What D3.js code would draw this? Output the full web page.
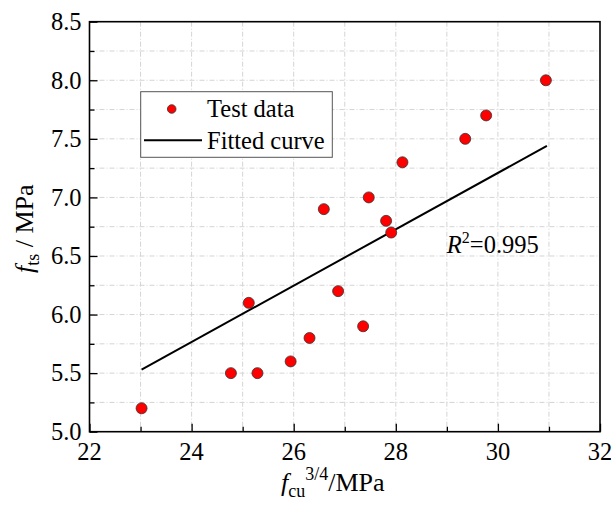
<!DOCTYPE html>
<html>
<head>
<meta charset="utf-8">
<script src="https://cdnjs.cloudflare.com/ajax/libs/d3/7.8.5/d3.min.js"></script>
<style>
  body { margin: 0; background: #fff; }
  svg text { font-family: "Liberation Serif", "Times New Roman", serif; fill: #000; }
</style>
</head>
<body>
<svg id="chart" width="611" height="509"></svg>
<script>
// test data: fcu^(3/4) vs fts
var xData = [23.02, 24.77, 25.12, 25.29, 25.94, 26.31, 26.59, 26.87, 27.36, 27.47, 27.81, 27.91, 28.13, 29.36, 29.77, 30.94];
var yData = [5.2, 5.5, 6.1, 5.5, 5.6, 5.8, 6.9, 6.2, 5.9, 7.0, 6.8, 6.7, 7.3, 7.5, 7.7, 8.0];
// fitted line end points
var fitX = [23.02, 30.96];
var fitY = [5.53, 7.44];
var xTicks = [22, 24, 26, 28, 30, 32];
var yTicks = [5.0, 5.5, 6.0, 6.5, 7.0, 7.5, 8.0, 8.5];

var serif = "'Liberation Serif', 'Times New Roman', serif";
var margin = {top: 21.7, right: 11, bottom: 77.3, left: 89.5};
var width = 611 - margin.left - margin.right;
var height = 509 - margin.top - margin.bottom;

var svg = d3.select("#chart");
var g = svg.append("g").attr("transform", "translate(" + margin.left + "," + margin.top + ")");

var x = d3.scaleLinear().domain([22, 32]).range([0, width]);
var y = d3.scaleLinear().domain([5, 8.5]).range([height, 0]);

// grid (at major and minor tick positions)
var gridX = d3.range(23, 32, 1);
var gridY = d3.range(5.25, 8.5, 0.25);
g.selectAll(".gx").data(gridX).enter().append("line")
  .attr("x1", function(d){ return x(d); }).attr("x2", function(d){ return x(d); })
  .attr("y1", 0).attr("y2", height)
  .attr("stroke", "#d4d4d4").attr("stroke-width", 1).attr("stroke-dasharray", "5,2,1,2");
g.selectAll(".gy").data(gridY).enter().append("line")
  .attr("y1", function(d){ return y(d); }).attr("y2", function(d){ return y(d); })
  .attr("x1", 0).attr("x2", width)
  .attr("stroke", "#d4d4d4").attr("stroke-width", 1).attr("stroke-dasharray", "5,2,1,2");

// axes with inward ticks
var xAxis = g.append("g").attr("transform", "translate(0," + height + ")")
  .call(d3.axisBottom(x).tickValues(d3.range(22, 32.5, 1)).tickSize(-5).tickFormat(""));
xAxis.selectAll(".tick line").filter(function(d){ return d % 2 === 0; }).attr("y2", -8);
var yAxis = g.append("g")
  .call(d3.axisLeft(y).tickValues(d3.range(5, 8.6, 0.25)).tickSize(-5).tickFormat(""));
yAxis.selectAll(".tick line").filter(function(d){ return Math.abs(d * 2 - Math.round(d * 2)) < 1e-6; }).attr("x2", 8);
[xAxis, yAxis].forEach(function(a){
  a.select(".domain").remove();
  a.selectAll(".tick line").attr("stroke", "#000").attr("stroke-width", 1.3);
});

// tick labels
g.selectAll(".xl").data(xTicks).enter().append("text")
  .attr("x", function(d){ return x(d); }).attr("y", height + 28)
  .attr("text-anchor", "middle").style("font-size", "24.5px").style("font-family", serif)
  .text(function(d){ return d; });
g.selectAll(".yl").data(yTicks).enter().append("text")
  .attr("x", -8).attr("y", function(d){ return y(d); }).attr("dy", "0.34em")
  .attr("text-anchor", "end").style("font-size", "24.5px").style("font-family", serif)
  .text(function(d){ return d.toFixed(1); });

// frame
g.append("rect").attr("x", 0).attr("y", 0).attr("width", width).attr("height", height)
  .attr("fill", "none").attr("stroke", "#000").attr("stroke-width", 1.6);

// fitted line
var line = d3.line().x(function(d){ return x(d[0]); }).y(function(d){ return y(d[1]); });
g.append("path").datum(d3.zip(fitX, fitY)).attr("d", line)
  .attr("fill", "none").attr("stroke", "#000").attr("stroke-width", 2);

// points
g.selectAll(".pt").data(d3.zip(xData, yData)).enter().append("circle")
  .attr("cx", function(d){ return x(d[0]); }).attr("cy", function(d){ return y(d[1]); })
  .attr("r", 5.5).attr("fill", "#ff0000").attr("stroke", "#333").attr("stroke-width", 0.8);

// R^2
var r2 = g.append("text").attr("x", x(29.0)).attr("y", y(6.5) - 3).style("font-size", "24.5px").style("font-family", serif);
r2.append("tspan").style("font-style", "italic").text("R");
r2.append("tspan").attr("dy", -10).style("font-size", "16px").text("2");
r2.append("tspan").attr("dy", 10).text("=0.995");

// legend
var lg = svg.append("g");
lg.append("rect").attr("x", 140.7).attr("y", 91.7).attr("width", 191.6).attr("height", 65.6)
  .attr("fill", "#fff").attr("stroke", "#555").attr("stroke-width", 1);
lg.append("circle").attr("cx", 171.7).attr("cy", 109).attr("r", 4.3)
  .attr("fill", "#ff0000").attr("stroke", "#333").attr("stroke-width", 0.8);
lg.append("text").attr("x", 207).attr("y", 116.5).style("font-size", "24.5px").style("font-family", serif).text("Test data");
lg.append("line").attr("x1", 144).attr("x2", 202).attr("y1", 140.3).attr("y2", 140.3)
  .attr("stroke", "#000").attr("stroke-width", 2);
lg.append("text").attr("x", 207).attr("y", 148.5).style("font-size", "24.5px").style("font-family", serif).text("Fitted curve");

// axis titles
var xt = svg.append("text").attr("x", 281).attr("y", 491).style("font-size", "26px").style("font-family", serif);
xt.append("tspan").style("font-style", "italic").text("f");
xt.append("tspan").attr("dy", 6).style("font-size", "18px").text("cu");
xt.append("tspan").attr("dy", -17).style("font-size", "18px").text("3/4");
xt.append("tspan").attr("dy", 11).text("/MPa");

var yt = svg.append("text").attr("transform", "translate(33,273) rotate(-90)").style("font-size", "26px").style("font-family", serif);
yt.append("tspan").style("font-style", "italic").text("f");
yt.append("tspan").attr("dy", 6).style("font-size", "18px").text("ts");
yt.append("tspan").attr("dy", -6).text(" / MPa");
</script>
</body>
</html>
